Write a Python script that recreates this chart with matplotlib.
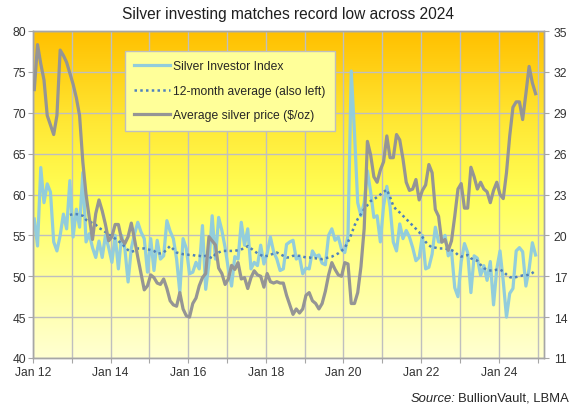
import numpy as np
import matplotlib
matplotlib.use("Agg")
import matplotlib.pyplot as plt
from matplotlib.colors import LinearSegmentedColormap

plt.rcParams['font.family'] = ['Liberation Sans', 'DejaVu Sans']

# ---------------- data (monthly, Jan 2012 .. Dec 2024) ----------------
index_vals = [
    57.0, 53.7, 63.3, 59.0, 61.3, 60.3, 54.2, 53.1, 55.0, 57.6, 55.8, 61.7,   # 2012
    54.8, 58.2, 56.0, 62.7, 54.2, 55.2, 53.5, 52.3, 54.3, 52.3, 55.0, 53.5,   # 2013
    51.7, 55.0, 50.9, 55.0, 53.4, 49.3, 53.4, 55.2, 56.6, 55.4, 54.6, 50.5,   # 2014
    54.6, 50.7, 54.4, 52.1, 52.5, 56.8, 55.5, 54.6, 52.1, 48.0, 54.6, 53.4,   # 2015
    50.3, 50.5, 51.7, 50.9, 56.2, 48.4, 51.6, 57.4, 52.1, 57.2, 55.6, 53.5,   # 2016
    50.9, 48.8, 52.4, 52.1, 56.6, 53.8, 55.8, 50.9, 51.7, 51.3, 53.8, 51.5,   # 2017
    52.8, 54.8, 53.0, 52.1, 50.7, 50.9, 53.9, 54.2, 54.4, 52.1, 52.4, 50.3,   # 2018
    51.0, 50.9, 53.1, 52.4, 52.6, 51.6, 51.4, 55.0, 55.8, 54.4, 54.8, 53.3,   # 2019
    52.9, 55.0, 75.1, 67.6, 59.0, 57.4, 59.0, 62.9, 60.3, 57.2, 57.4, 54.2,   # 2020
    58.6, 61.0, 58.5, 54.2, 53.1, 56.4, 54.6, 55.6, 54.8, 53.5, 51.9, 52.3,   # 2021
    55.0, 50.9, 51.1, 52.7, 56.0, 54.2, 54.2, 55.0, 52.5, 53.1, 48.6, 47.5,   # 2022
    51.8, 54.0, 52.9, 48.0, 52.5, 52.2, 50.1, 51.3, 49.5, 51.8, 46.5, 50.9,   # 2023
    53.1, 49.4, 45.0, 47.9, 48.5, 53.1, 53.5, 53.0, 48.8, 50.9, 54.1, 52.6,   # 2024
]

# 12-month average, Dec 2012 .. Dec 2024
avg_vals = [
    57.5,                                                                     # Dec 2012
    57.6, 57.6, 57.5, 57.4, 56.9, 56.7, 56.5, 56.3, 55.9, 55.7, 55.4, 55.1,   # 2013
    54.9, 54.6, 54.3, 54.0, 53.6, 53.2, 53.0, 53.1, 53.4, 53.4, 53.4, 53.3,   # 2014
    53.2, 53.1, 52.8, 52.8, 52.9, 53.3, 53.7, 53.3, 52.9, 52.8, 52.7, 52.7,   # 2015
    52.6, 52.6, 52.5, 52.5, 52.4, 52.5, 52.4, 52.2, 52.7, 52.9, 53.1, 53.1,   # 2016
    53.1, 53.1, 53.1, 53.2, 53.3, 53.4, 53.7, 53.4, 53.1, 52.8, 52.6, 52.4,   # 2017
    52.5, 52.6, 52.8, 52.9, 52.7, 52.5, 52.3, 52.3, 52.5, 52.5, 52.5, 52.4,   # 2018
    52.3, 52.3, 52.2, 52.2, 52.1, 52.1, 52.2, 52.3, 52.4, 52.6, 52.8, 53.1,   # 2019
    53.5, 54.2, 55.1, 56.2, 57.0, 57.6, 58.2, 58.7, 59.2, 59.4, 59.7, 60.0,   # 2020
    60.3, 60.6, 59.7, 58.6, 58.1, 57.8, 57.4, 57.0, 56.6, 56.2, 55.8, 55.4,   # 2021
    54.8, 54.2, 53.8, 53.5, 53.5, 53.4, 53.4, 53.4, 53.3, 53.2, 53.0, 52.6,   # 2022
    52.4, 52.5, 52.6, 52.2, 52.0, 51.9, 51.4, 51.0, 50.8, 50.7, 50.7, 50.8,   # 2023
    50.8, 50.6, 50.2, 49.9, 49.8, 49.9, 50.0, 50.1, 50.1, 50.2, 50.4, 50.7,   # 2024
]

price_vals = [
    30.7, 34.0, 32.6, 31.4, 28.8, 28.1, 27.4, 28.8, 33.6, 33.2, 32.7, 31.9,   # 2012
    31.1, 30.1, 28.8, 25.4, 23.0, 21.3, 19.7, 21.6, 22.6, 21.8, 20.8, 19.6,   # 2013
    19.9, 20.8, 20.8, 19.7, 19.4, 19.9, 20.9, 19.7, 18.4, 17.2, 16.0, 16.3,   # 2014
    17.1, 16.9, 16.5, 16.4, 16.8, 16.1, 15.2, 14.9, 14.8, 15.8, 14.6, 14.1,   # 2015
    14.0, 15.0, 15.4, 16.3, 16.9, 17.2, 19.9, 19.6, 19.3, 17.6, 17.2, 16.4,   # 2016
    16.8, 17.8, 17.5, 18.0, 16.8, 16.9, 16.1, 16.9, 17.4, 17.1, 17.0, 16.2,   # 2017
    17.2, 16.6, 16.5, 16.6, 16.5, 16.5, 15.6, 14.9, 14.2, 14.6, 14.3, 14.6,   # 2018
    15.6, 15.8, 15.2, 15.0, 14.6, 15.0, 15.9, 17.1, 18.0, 17.5, 17.1, 17.0,   # 2019
    18.0, 17.9, 15.0, 15.0, 15.8, 17.7, 20.5, 26.9, 25.9, 24.3, 23.9, 24.8,   # 2020
    25.4, 27.3, 25.7, 25.7, 27.4, 27.0, 25.6, 23.9, 23.3, 23.4, 24.1, 22.6,   # 2021
    23.3, 23.7, 25.2, 24.6, 21.9, 21.4, 19.5, 19.7, 18.9, 19.6, 21.4, 23.4,   # 2022
    23.8, 22.0, 22.0, 25.0, 24.3, 23.4, 23.9, 23.4, 23.2, 22.4, 23.3, 23.9,   # 2023
    23.0, 22.7, 24.6, 27.3, 29.4, 29.8, 29.8, 28.5, 30.4, 32.4, 31.2, 30.4,   # 2024
]

tick_labels = ["Jan 12", "", "Jan 14", "", "Jan 16", "", "Jan 18", "",
               "Jan 20", "", "Jan 22", "", "Jan 24", ""]

series_names = ["Silver Investor Index", "12-month average (also left)",
                "Average silver price ($/oz)"]
title = "Silver investing matches record low across 2024"

# ---------------- figure ----------------
W, H = 575, 410
fig = plt.figure(figsize=(W / 100, H / 100), dpi=100)
fig.patch.set_facecolor("white")

L, R, T, B = 33, 544, 32, 359
ax = fig.add_axes([L / W, 1 - B / H, (R - L) / W, (B - T) / H])

n = len(index_vals)
xmax = n + 2
xpos = np.arange(n) + 0.4
avg_x = xpos[n - len(avg_vals):]

# gradient background
grad = np.linspace(0, 1, 512).reshape(-1, 1)
cmap = LinearSegmentedColormap.from_list(
    "bg", [(0.0, "#FFFFD2"), (0.3, "#FFFF8C"), (0.5, "#FFFF55"),
           (0.72, "#FFE835"), (1.0, "#FFC000")])
ax.imshow(grad, aspect="auto", cmap=cmap, extent=[0, xmax, 40, 80],
          origin="lower", zorder=0, interpolation="bilinear")

ax.set_xlim(0, xmax)
ax.set_ylim(40, 80)
ax.set_yticks(np.arange(40, 81, 5))
ax.set_xticks(np.arange(0, len(tick_labels) * 12, 12))
ax.set_xticklabels(tick_labels)
ax.set_axisbelow(True)
ax.grid(True, color="#BFBFBF", lw=1.0, zorder=0.5)

gcol = "#A6A6A6"
tcol = "#333333"
ax.tick_params(axis="y", direction="out", length=3.5, width=0.8, color=gcol,
               labelsize=8.7, labelcolor=tcol, pad=1.5)
ax.tick_params(axis="x", direction="out", length=3.5, width=0.8, color=gcol,
               labelsize=8.7, labelcolor=tcol, pad=2.5)
for s in ax.spines.values():
    s.set_color(gcol)
    s.set_linewidth(1.0)

l1, = ax.plot(xpos, index_vals, color="#92CDDC", lw=2.3, zorder=3,
              solid_joinstyle="round", label=series_names[0])
l2, = ax.plot(avg_x, avg_vals, color="#4F81BD", lw=1.8, zorder=4,
              linestyle=(0, (1, 1.3)), label=series_names[1])

ax2 = ax.twinx()
ax2.set_ylim(11, 35)
ax2.set_yticks(np.arange(11, 36, 3))
ax2.tick_params(axis="y", direction="out", length=3.5, width=0.8, color=gcol,
                labelsize=8.7, labelcolor=tcol, pad=3.5)
for s in ax2.spines.values():
    s.set_color(gcol)
    s.set_linewidth(1.0)
l3, = ax2.plot(xpos, price_vals, color="#959595", lw=2.3, zorder=3,
               solid_joinstyle="round", label=series_names[2])

leg = ax2.legend(handles=[l1, l2, l3], loc="upper left",
                 bbox_to_anchor=((125 - L) / (R - L), (B - 52) / (B - T)),
                 fontsize=8.7, frameon=True, fancybox=False, framealpha=1,
                 borderaxespad=0, borderpad=0.75, labelspacing=1.05,
                 handlelength=3.0, handletextpad=0.25)
fr = leg.get_frame()
fr.set_facecolor("#FFFF99")
fr.set_edgecolor("#BFBFBF")
fr.set_linewidth(1.0)
for t in leg.get_texts():
    t.set_color("#262626")

fig.text(0.5, 1 - 15 / H, title, ha="center", va="center", fontsize=11.2,
         color="#1F1F1F")

# source note (italic "Source:")
t_src = fig.text(569 / W, 1 - 399 / H, "BullionVault, LBMA", ha="right",
                 va="center", fontsize=9.4, color="#262626")
fig.canvas.draw()
bb = t_src.get_window_extent(renderer=fig.canvas.get_renderer())
fig.text(bb.x0 / W - 3 / W, 1 - 399 / H, "Source:", ha="right", va="center",
         fontsize=9.4, style="italic", color="#262626")

fig.savefig("out.png", dpi=100, facecolor="white")
